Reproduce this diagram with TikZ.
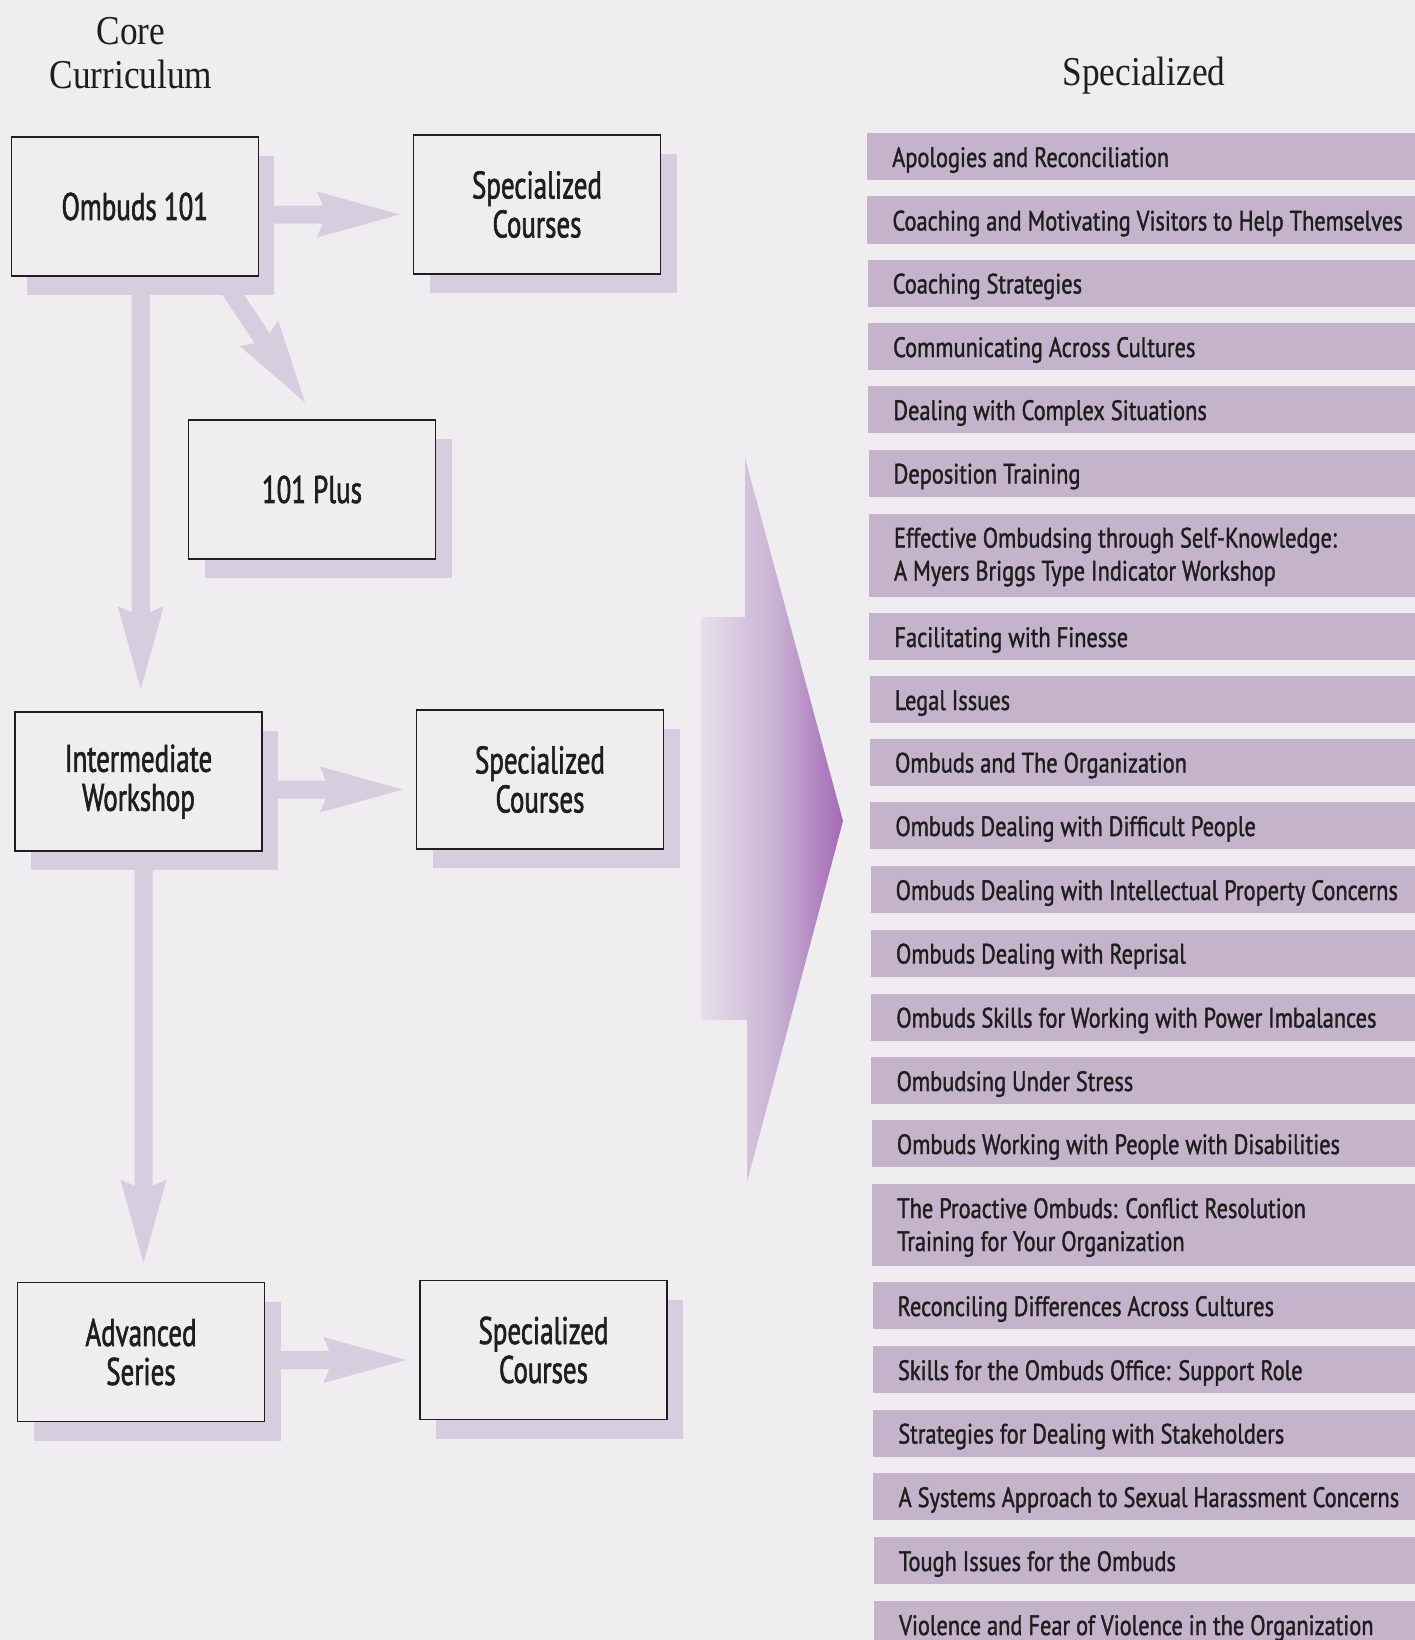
\documentclass[tikz,border=0pt]{standalone}
\usepackage{fontspec}
\usetikzlibrary{calc,shadows}
\newfontfamily\condfont[FakeStretch=0.80,FakeBold=1.3]{PT Sans}
\newfontfamily\narrowfont[FakeStretch=0.70,FakeBold=1.5]{PT Sans}
\newfontfamily\headfont[FakeStretch=0.86]{Liberation Serif}
\newcommand\bxfont{\narrowfont\fontsize{38.5}{39}\selectfont}
\newcommand\brfont{\condfont\fontsize{28}{33}\selectfont}
\newcommand\hdfont{\headfont\fontsize{41}{44}\selectfont}
\definecolor{bg}{HTML}{EFEDF0}
\definecolor{barc}{HTML}{C5B2CB}
\definecolor{shadc}{HTML}{D6CDDF}
\definecolor{bigdark}{HTML}{A468B6}
\definecolor{bigmid}{HTML}{C8B0D3}
\definecolor{biglight}{HTML}{E7DFEB}
\definecolor{ink}{HTML}{1E1E1E}
\pgfdeclarehorizontalshading{bigh}{100bp}{color(0bp)=(biglight); color(25bp)=(biglight); color(52bp)=(bigmid); color(75bp)=(bigdark); color(100bp)=(bigdark)}
% fat arrow: #1 start, #2 tip, #3 prefix for helper coordinates
\newcommand\fatarr[3]{%
  \coordinate (#3w) at ($(#2)!83pt!(#1)$);
  \coordinate (#3i) at ($(#2)!77pt!(#1)$);
  \fill[shadc] ($(#1)!9pt!90:(#2)$) -- ($(#3i)!9pt!90:(#2)$) -- ($(#3w)!23pt!90:(#2)$)
    -- (#2) -- ($(#3w)!23pt!-90:(#2)$) -- ($(#3i)!9pt!-90:(#2)$) -- ($(#1)!9pt!-90:(#2)$) -- cycle;}
\begin{document}
\begin{tikzpicture}[x=1pt,y=-1pt,
  coursebox/.style={draw=ink, line width=1.4pt, fill=bg, minimum width=247pt, minimum height=139pt,
    inner sep=0pt, align=center, font=\bxfont, text=ink,
    general shadow={fill=shadc, shadow xshift=16pt, shadow yshift=-19pt}},
  barbox/.style={fill=barc, inner sep=0pt, outer sep=0pt, anchor=north west},
  lab/.style={anchor=base west, inner sep=0pt, font=\brfont, text=ink},
  hd/.style={anchor=base, inner sep=0pt, font=\hdfont, text=ink}]
\fill[bg] (0,0) rectangle (1415,1640);
\useasboundingbox (0,0) rectangle (1415,1640);

% big arrow
\shade[shading=bigh] (745,458) -- (843,821) -- (747,1182) -- (747,1020) -- (701,1020) -- (701,617) -- (745,617) -- cycle;

% list bars
\foreach \t/\h/\lab [count=\i] in {
 133/47/{Apologies and Reconciliation},
 196.5/47/{Coaching and Motivating Visitors to Help Themselves},
 259.5/47/{Coaching Strategies},
 323/47/{Communicating Across Cultures},
 386/47/{Dealing with Complex Situations},
 449.5/47/{Deposition Training},
 513.5/83/{\parbox[t]{520pt}{\raggedright Effective Ombudsing through Self-Knowledge:\\A Myers Briggs Type Indicator Workshop}},
 613/47/{Facilitating with Finesse},
 676/47/{Legal Issues},
 738.5/47/{Ombuds and The Organization},
 802/47/{Ombuds Dealing with Difficult People},
 866/47/{Ombuds Dealing with Intellectual Property Concerns},
 929.5/47/{Ombuds Dealing with Reprisal},
 993.5/47/{Ombuds Skills for Working with Power Imbalances},
 1057/47/{Ombudsing Under Stress},
 1120/47/{Ombuds Working with People with Disabilities},
 1184/82/{\parbox[t]{520pt}{\raggedright The Proactive Ombuds: Conflict Resolution\\Training for Your Organization}},
 1282/47/{Reconciling Differences Across Cultures},
 1346/47/{Skills for the Ombuds Office: Support Role},
 1409.5/47/{Strategies for Dealing with Stakeholders},
 1473/47/{A Systems Approach to Sexual Harassment Concerns},
 1537/47/{Tough Issues for the Ombuds},
 1601/39/{Violence and Fear of Violence in the Organization}} {
  \pgfmathsetmacro\bx{867+(\t-133)*0.00477}
  \pgfmathsetmacro\bw{1415-\bx+1}
  \node[barbox, minimum width=\bw pt, minimum height=\h pt] (b\i) at (\bx,\t) {};
  \node[lab] (t\i) at ($(b\i.north west)+(25,34)$) {\lab};
}

% core boxes
\node[coursebox] (om)  at (134.75,206.5) {Ombuds 101};
\node[coursebox] (sc1) at (537,204.5) {Specialized\\Courses};
\node[coursebox] (pb)  at (312,489.5) {101 Plus};
\node[coursebox] (ib)  at (138.5,781.5) {Intermediate\\Workshop};
\node[coursebox] (sc2) at (540,779.5) {Specialized\\Courses};
\node[coursebox] (adv) at (141,1352) {Advanced\\Series};
\node[coursebox] (sc3) at (543.5,1350) {Specialized\\Courses};

% connectors
\coordinate (h1s) at ($(om.east)+(10,8)$);
\coordinate (h1t) at ($(h1s -| sc1.west)+(-13,0)$);
\fatarr{h1s}{h1t}{h1}
\coordinate (h2s) at ($(ib.east)+(10,8)$);
\coordinate (h2t) at ($(h2s -| sc2.west)+(-13,0)$);
\fatarr{h2s}{h2t}{h2}
\coordinate (h3s) at ($(adv.east)+(10,8)$);
\coordinate (h3t) at ($(h3s -| sc3.west)+(-13,0)$);
\fatarr{h3s}{h3t}{h3}
\coordinate (v1s) at ($(om.south)+(6,10)$);
\coordinate (v1t) at ($(v1s |- ib.north)+(0,-22)$);
\fatarr{v1s}{v1t}{v1}
\coordinate (v2s) at ($(ib.south)+(5,10)$);
\coordinate (v2t) at ($(v2s |- adv.north)+(0,-19)$);
\fatarr{v2s}{v2t}{v2}
\coordinate (d1s) at ($(om.south)+(93,10)$);
\coordinate (d1t) at ($(pb.north)+(-7,-17)$);
\fatarr{d1s}{d1t}{d1}

% headings
\node[hd] (core) at (131,45) {Core};
\node[hd] (curr) at (131,89) {Curriculum};
\node[hd] (spec) at (1144,86) {Specialized};
\end{tikzpicture}
\end{document}
